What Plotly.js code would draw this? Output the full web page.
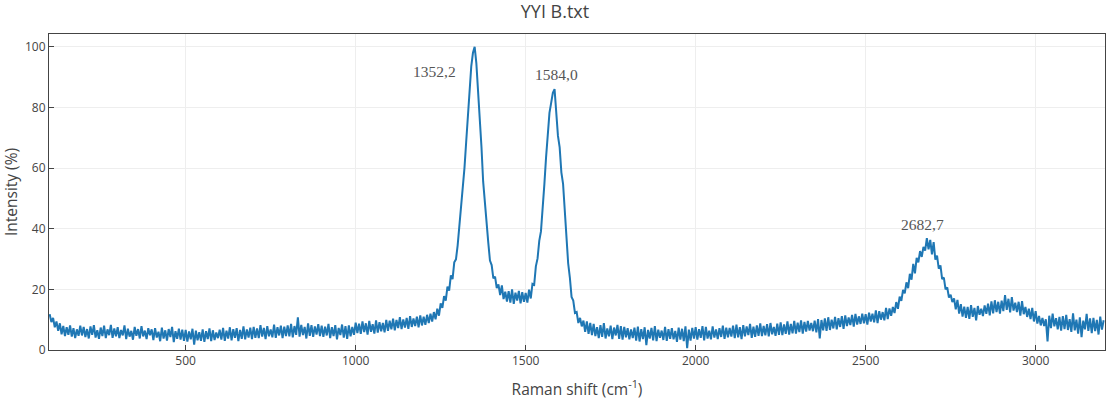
<!DOCTYPE html>
<html>
<head>
<meta charset="utf-8">
<script src="https://cdn.plot.ly/plotly-3.0.1.min.js"></script>
<style>html,body{margin:0;padding:0;background:#fff;}#chart{width:1110px;height:400px;}</style>
</head>
<body>
<div id="chart"></div>
<script>
// Raman shift sampling grid (cm^-1)
const shiftStart = 100;
const shiftStep = 5;

// Intensity (%), one row per 100 cm^-1
const intensity = [
  // 100-195
  11.8,9.2,10.6,7.5,9.4,6.3,8.8,5.2,7.9,4.6,7.5,5.0,8.1,4.4,7.2,3.9,6.8,4.7,8.0,4.8,
  // 200-295
  7.6,4.3,6.9,3.8,7.8,5.0,8.2,4.1,6.5,3.7,7.4,4.6,8.0,3.9,6.8,4.9,8.3,4.0,7.1,4.5,
  // 300-395
  7.5,3.9,6.6,4.8,8.1,3.6,7.0,4.4,6.3,3.4,7.6,4.7,6.9,3.8,7.9,4.5,6.4,3.6,7.2,4.9,
  // 400-495
  6.8,3.3,7.2,4.1,6.0,2.9,7.4,3.8,6.5,3.1,6.9,4.3,7.6,2.6,6.2,3.7,7.0,3.4,6.7,3.0,
  // 500-595
  6.6,2.8,6.1,3.5,7.0,1.8,6.4,3.2,5.9,3.0,6.8,2.7,6.2,3.6,7.1,2.9,6.5,3.3,5.8,3.9,
  // 600-695
  6.7,3.4,7.3,3.0,6.4,3.8,7.5,3.2,6.9,4.0,7.2,2.9,6.6,3.7,7.8,3.5,6.8,4.1,7.4,3.6,
  // 700-795
  7.6,4.0,7.1,3.9,8.2,4.4,7.3,3.6,7.9,4.5,6.8,4.2,8.4,4.0,7.5,4.8,8.0,3.9,7.7,4.6,
  // 800-895
  8.1,4.5,8.6,4.2,7.9,5.0,10.8,4.4,8.3,4.9,7.6,3.8,8.8,4.7,8.2,4.3,7.8,5.1,8.5,4.6,
  // 900-995
  8.0,4.3,7.7,4.8,8.6,3.9,7.5,4.6,8.2,3.5,7.3,4.9,8.4,4.1,7.9,3.7,8.1,4.5,7.6,5.0,
  // 1000-1095
  9.0,5.6,8.7,5.3,9.4,5.9,8.8,5.1,9.6,6.0,8.5,5.4,9.8,5.7,9.2,6.2,8.9,5.8,9.9,6.3,
  // 1100-1195
  9.7,6.8,10.3,6.5,9.9,7.2,10.8,6.9,10.1,7.4,10.6,7.0,11.2,7.6,10.4,7.9,11.0,7.5,11.4,8.1,
  // 1200-1295
  11.0,8.3,11.6,8.9,12.0,9.4,12.5,10.1,13.6,11.3,15.4,13.9,17.8,16.3,20.9,19.6,24.6,23.4,28.9,29.9,
  // 1300-1395
  34.5,40.5,45.5,53.5,60.0,68.5,76.5,87.0,93.5,98.0,100.0,94.5,86.0,75.5,67.0,55.5,48.5,39.5,35.5,29.5,
  // 1400-1495
  28.0,23.6,24.2,20.4,21.6,18.1,21.3,16.8,19.2,16.0,19.4,15.6,20.0,15.2,18.9,16.3,19.5,15.4,19.1,15.9,
  // 1500-1595
  18.8,15.6,19.9,17.0,21.8,21.5,27.6,30.2,36.0,39.1,48.8,54.6,63.5,69.8,78.2,81.5,84.8,86.0,77.8,70.6,
  // 1600-1695
  66.8,58.6,54.8,44.7,38.8,28.6,23.9,17.5,16.3,12.2,12.5,8.9,10.6,7.8,9.7,6.0,9.4,5.3,8.9,4.9,
  // 1700-1795
  8.6,4.6,7.5,3.9,8.2,4.3,8.9,3.8,7.1,4.5,8.0,3.6,7.4,4.8,8.3,3.7,7.9,3.4,7.6,4.2,
  // 1800-1895
  7.2,3.5,6.8,3.9,7.4,3.1,7.7,2.8,6.9,3.6,7.5,1.6,6.6,3.8,7.3,3.2,7.9,2.9,6.7,4.0,
  // 1900-1995
  6.4,3.3,7.6,3.0,6.9,3.7,7.2,3.5,6.3,2.7,7.4,3.4,7.0,2.9,7.8,0.6,6.7,3.1,7.3,3.8,
  // 2000-2095
  7.5,3.4,6.9,4.0,7.9,3.2,7.6,3.8,6.4,3.5,7.8,4.1,6.8,3.6,7.2,4.3,8.0,3.7,7.4,4.2,
  // 2100-2195
  7.3,4.4,8.0,3.9,8.4,4.2,7.5,3.6,8.2,4.5,7.8,4.9,8.6,4.0,7.7,4.3,8.1,4.7,8.8,4.6,
  // 2200-2295
  7.9,4.8,8.5,4.5,8.9,5.2,7.6,4.7,8.7,5.0,9.1,4.9,8.4,5.3,9.4,5.1,8.6,5.5,9.6,5.4,
  // 2300-2395
  9.0,5.9,9.8,5.4,9.3,6.1,9.6,6.4,8.9,6.2,9.7,5.8,10.2,3.8,9.9,6.5,10.4,6.3,10.8,6.6,
  // 2400-2495
  10.0,7.1,10.9,6.8,10.5,7.6,11.2,7.0,11.4,7.9,10.7,8.2,11.6,7.7,11.9,8.4,11.1,8.6,12.0,8.8,
  // 2500-2595
  11.8,8.4,12.3,9.4,12.0,9.1,13.1,8.9,12.8,10.0,12.5,9.8,13.9,10.2,13.7,11.3,14.2,12.2,15.8,13.6,
  // 2600-2695
  17.6,16.2,19.8,18.7,22.3,20.4,25.1,23.2,28.4,25.3,30.4,28.9,32.6,30.7,34.0,32.8,36.9,33.2,36.3,31.5,
  // 2700-2795
  35.6,29.8,31.1,26.8,27.9,23.4,23.9,20.0,20.6,17.3,18.2,15.8,17.0,13.4,16.5,12.0,15.1,11.0,14.3,10.6,
  // 2800-2895
  14.2,10.3,14.8,10.9,13.9,9.8,14.5,11.6,13.6,11.2,14.7,11.9,15.3,11.4,16.0,12.1,16.4,12.5,15.9,12.0,
  // 2900-2995
  16.3,12.8,18.1,13.2,16.9,12.4,17.4,13.0,15.6,12.5,15.9,11.3,16.1,11.8,14.2,10.9,13.6,10.2,13.9,9.4,
  // 3000-3095
  12.8,8.7,11.2,8.1,10.6,7.9,10.1,2.8,11.3,7.2,12.0,7.8,10.5,6.8,10.9,6.4,11.2,6.9,11.6,6.6,
  // 3100-3195
  10.2,6.0,12.1,6.5,10.0,5.4,10.8,4.2,9.7,6.8,11.9,6.3,10.4,5.6,10.6,6.2,9.9,5.1,11.0,6.7,
  // 3200
  9.8
];

const peakShifts = [1352.2, 1584.0, 2682.7];
const peakIntensities = [100.0, 86.0, 36.9];
const peakLabels = ['1352,2', '1584,0', '2682,7'];

const shift = intensity.map((_, i) => shiftStart + i * shiftStep);

const labelOffsets = [[-41, -25], [2, 15], [-5, 14]];

const annotations = peakLabels.map((t, i) => ({
  x: peakShifts[i], y: peakIntensities[i], xref: 'x', yref: 'y',
  text: t, showarrow: false,
  xshift: labelOffsets[i][0], yshift: labelOffsets[i][1],
  font: {family: 'Liberation Serif, Times New Roman, serif', size: 15.5, color: '#555'}
}));

const trace = {
  x: shift, y: intensity, type: 'scatter', mode: 'lines',
  line: {color: '#1f77b4', width: 2}, hoverinfo: 'x+y'
};

const layout = {
  width: 1110, height: 400,
  margin: {l: 49, r: 5, t: 34, b: 50},
  paper_bgcolor: '#fff', plot_bgcolor: '#fff',
  font: {family: 'Open Sans, sans-serif', color: '#444', size: 12},
  title: {text: 'YYI B.txt', font: {size: 18, color: '#444'}, y: 0.97, yanchor: 'middle'},
  showlegend: false,
  xaxis: {
    title: {text: 'Raman shift (cm<sup>-1</sup>)', font: {size: 15.5}},
    range: [98, 3204], dtick: 500, tick0: 0,
    showline: true, mirror: true, linecolor: '#444', linewidth: 1,
    ticks: 'inside', ticklen: 5, tickcolor: '#444',
    showgrid: true, gridcolor: '#eee', zeroline: false
  },
  yaxis: {
    title: {text: 'Intensity (%)', font: {size: 15.5}},
    range: [0, 104.2], dtick: 20,
    showline: true, mirror: true, linecolor: '#444', linewidth: 1,
    ticks: 'inside', ticklen: 5, tickcolor: '#444',
    showgrid: true, gridcolor: '#eee', zeroline: false
  },
  annotations: annotations
};

Plotly.newPlot('chart', [trace], layout, {displayModeBar: false, staticPlot: true});
</script>
</body>
</html>
